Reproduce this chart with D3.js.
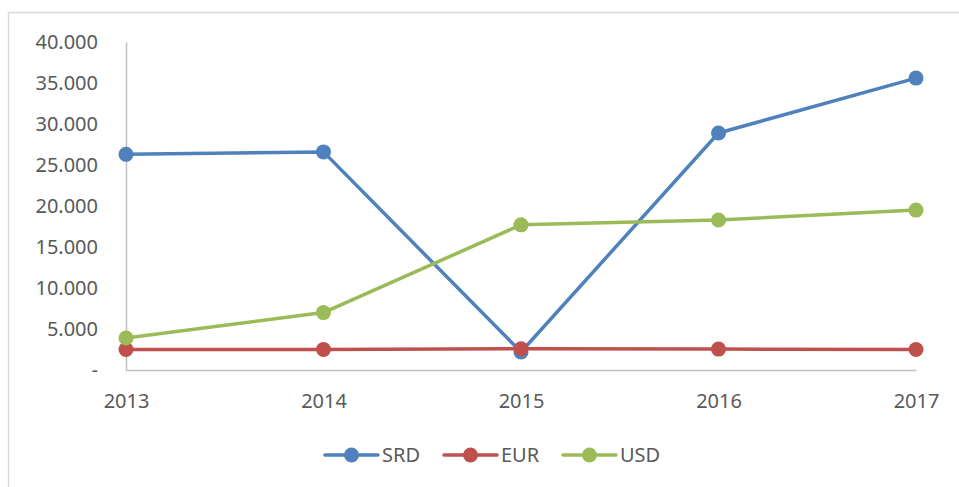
<!DOCTYPE html>
<html>
<head>
<meta charset="utf-8">
<script src="https://cdn.jsdelivr.net/npm/d3@7"></script>
<style>
  body { margin: 0; background: #fff; }
  svg { display: block; font-family: "Noto Sans", "Liberation Sans", sans-serif; }
</style>
</head>
<body>
<div id="chart"></div>
<script>
// Data
const years = ["2013", "2014", "2015", "2016", "2017"];
const srd = [26300, 26600, 2200, 28900, 35600];
const eur = [2500, 2500, 2600, 2550, 2500];
const usd = [3900, 7000, 17700, 18300, 19500];
const yTicks = [0, 5000, 10000, 15000, 20000, 25000, 30000, 35000, 40000];

const series = [
    { name: "SRD", values: srd, color: "#4f81bd" },
    { name: "EUR", values: eur, color: "#c0504d" },
    { name: "USD", values: usd, color: "#9bbb59" }
];

const width = 959, height = 487;
const fontSize = 20;

const svg = d3.select("#chart")
    .append("svg")
    .attr("width", width)
    .attr("height", height);

// chart frame
svg.append("rect")
    .attr("x", 8.5)
    .attr("y", 12.5)
    .attr("width", 1000)
    .attr("height", 600)
    .attr("fill", "none")
    .attr("stroke", "#d9d9d9")
    .attr("stroke-width", 1.5);

const x = d3.scalePoint()
    .domain(years)
    .range([126, 916]);

const y = d3.scaleLinear()
    .domain([0, 40000])
    .range([370, 42]);

const fmt = d => d === 0 ? "-" : d3.format(",")(d).replace(/,/g, ".");

// y axis
const yAxis = svg.append("g")
    .attr("transform", "translate(126,0)")
    .call(d3.axisLeft(y).tickValues(yTicks).tickFormat(fmt).tickSize(0).tickPadding(28));
yAxis.select(".domain").attr("stroke", "#bfbfbf").attr("stroke-width", 1.5);
yAxis.selectAll("text")
    .attr("font-size", fontSize)
    .attr("fill", "#595959")
    .attr("font-family", "Noto Sans");

// x axis
const xAxis = svg.append("g")
    .attr("transform", "translate(0,370)")
    .call(d3.axisBottom(x).tickSize(0).tickPadding(24));
xAxis.select(".domain").attr("stroke", "#bfbfbf").attr("stroke-width", 1.5);
xAxis.selectAll("text")
    .attr("font-size", fontSize)
    .attr("fill", "#595959")
    .attr("font-family", "Noto Sans");

const line = d3.line()
    .x((d, i) => x(years[i]))
    .y(d => y(d));

// lines and markers
series.forEach(s => {
    svg.append("path")
        .datum(s.values)
        .attr("fill", "none")
        .attr("stroke", s.color)
        .attr("stroke-width", 3.5)
        .attr("stroke-linejoin", "round")
        .attr("d", line);

    svg.append("g")
        .selectAll("circle")
        .data(s.values)
        .join("circle")
        .attr("cx", (d, i) => x(years[i]))
        .attr("cy", d => y(d))
        .attr("r", 7.5)
        .attr("fill", s.color);
});

// legend
const legend = svg.selectAll(".legend")
    .data(series)
    .join("g")
    .attr("class", "legend")
    .attr("transform", (d, i) => `translate(${325 + i * 119},455)`);

legend.append("line")
    .attr("x1", 0)
    .attr("x2", 53)
    .attr("stroke", d => d.color)
    .attr("stroke-width", 3.5)
    .attr("stroke-linecap", "round");

legend.append("circle")
    .attr("cx", 26.5)
    .attr("r", 7.5)
    .attr("fill", d => d.color);

legend.append("text")
    .attr("x", 57)
    .attr("dy", "0.35em")
    .attr("font-size", fontSize)
    .attr("fill", "#595959")
    .text(d => d.name);
</script>
</body>
</html>
